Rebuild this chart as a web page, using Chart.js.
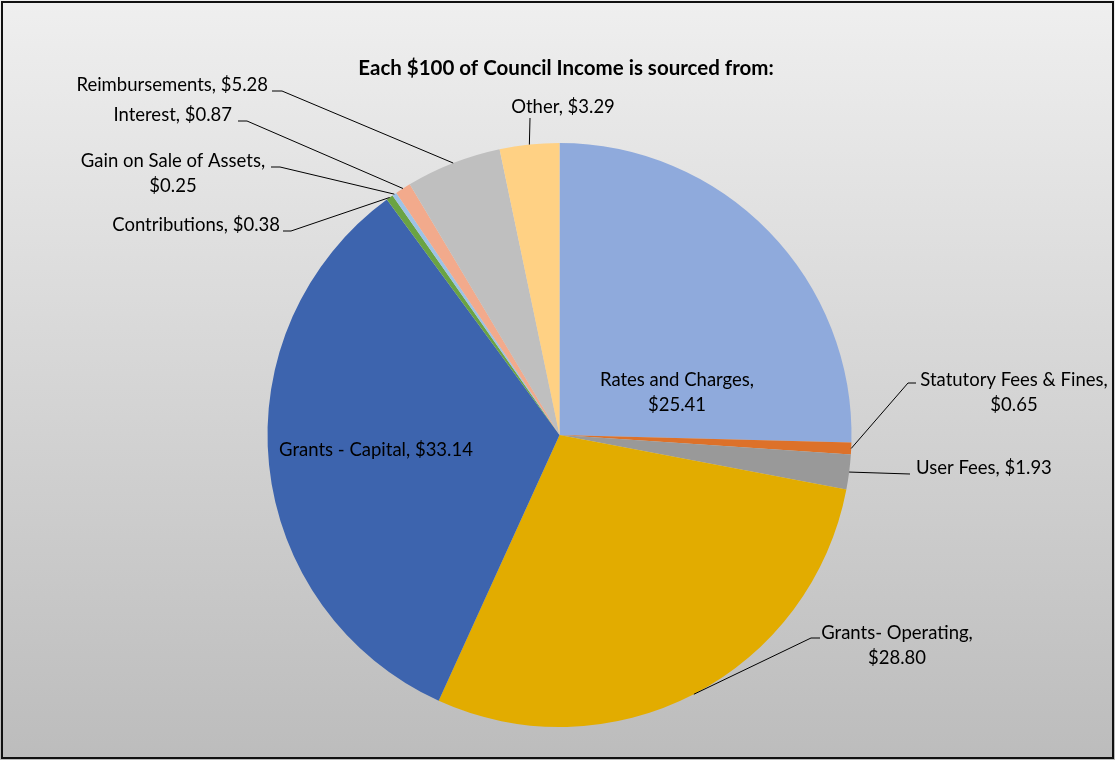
<!DOCTYPE html>
<html>
<head>
<meta charset="utf-8">
<title>Council Income</title>
<script src="https://cdn.jsdelivr.net/npm/chart.js@4.4.0/dist/chart.umd.min.js"></script>
<style>
  html, body { margin: 0; padding: 0; background: #fff; }
</style>
</head>
<body>
<canvas id="myChart" width="1115" height="760"></canvas>
<script>
var sources = ['Rates and Charges', 'Statutory Fees & Fines', 'User Fees', 'Grants- Operating', 'Grants - Capital',
    'Contributions', 'Gain on Sale of Assets', 'Interest', 'Reimbursements', 'Other'];
var dollars = [25.41, 0.65, 1.93, 28.80, 33.14, 0.38, 0.25, 0.87, 5.28, 3.29];
var sliceColors = ['#8faadc', '#dd7129', '#999999', '#e2ac00', '#3d64ae',
    '#6aa343', '#9dc3e6', '#f2aa8c', '#bfbfbf', '#ffd184'];

var chartTitle = 'Each $100 of Council Income is sourced from:';

// label placement: text anchor, alignment and leader elbow points (label side first)
var labelSpots = [
    { x: 677, y: 380, align: 'center', wrap: true, leader: null },
    { x: 1014, y: 380, align: 'center', wrap: true, leader: [[916, 383], [908, 383]] },
    { x: 916, y: 468, align: 'left', wrap: false, leader: [[910, 474]] },
    { x: 897, y: 633, align: 'center', wrap: true, leader: [[820, 638], [811, 638]] },
    { x: 376, y: 450, align: 'center', wrap: false, leader: null },
    { x: 280, y: 225, align: 'right', wrap: false, leader: [[283, 231], [291, 231]] },
    { x: 173, y: 161, align: 'center', wrap: true, leader: [[271, 167], [280, 167]] },
    { x: 232, y: 115, align: 'right', wrap: false, leader: [[238, 121], [247, 121]] },
    { x: 268, y: 85, align: 'right', wrap: false, leader: [[272, 91], [282, 91]] },
    { x: 563, y: 107, align: 'center', wrap: false, leader: [[530, 118]] }
];

var FONT = 'Lato, "Open Sans", sans-serif';

var backdrop = {
    id: 'backdrop',
    beforeDraw: function (chart) {
        var ctx = chart.ctx;
        var g = ctx.createLinearGradient(0, 0, 0, chart.height);
        g.addColorStop(0, '#efefef');
        g.addColorStop(1, '#bcbcbc');
        ctx.save();
        ctx.fillStyle = g;
        ctx.fillRect(0, 0, chart.width, chart.height);
        ctx.strokeStyle = '#111';
        ctx.lineWidth = 2;
        ctx.strokeRect(2, 2, chart.width - 4, chart.height - 4);
        ctx.restore();
    }
};

var sliceLabels = {
    id: 'sliceLabels',
    afterDraw: function (chart) {
        var ctx = chart.ctx;
        var arcs = chart.getDatasetMeta(0).data;
        ctx.save();

        // title
        ctx.fillStyle = '#000';
        ctx.font = 'bold 20.5px ' + FONT;
        ctx.textAlign = 'center';
        ctx.textBaseline = 'middle';
        ctx.fillText(chartTitle, 566, 68);

        ctx.font = '18.5px ' + FONT;
        ctx.strokeStyle = '#000';
        ctx.lineWidth = 1;
        for (i = 0; i < arcs.length; i++) {
            var spot = labelSpots[i];
            var a = arcs[i].getProps(['x', 'y', 'startAngle', 'endAngle', 'outerRadius'], true);
            var mid = (a.startAngle + a.endAngle) / 2;
            if (spot.leader) {
                ctx.beginPath();
                ctx.moveTo(spot.leader[0][0], spot.leader[0][1]);
                for (var k = 1; k < spot.leader.length; k++) {
                    ctx.lineTo(spot.leader[k][0], spot.leader[k][1]);
                }
                ctx.lineTo(a.x + Math.cos(mid) * a.outerRadius, a.y + Math.sin(mid) * a.outerRadius);
                ctx.stroke();
            }
            var amount = '$' + dollars[i].toFixed(2);
            var lines = spot.wrap ? [sources[i] + ',', amount] : [sources[i] + ', ' + amount];
            ctx.textAlign = spot.align;
            for (var j = 0; j < lines.length; j++) {
                ctx.fillText(lines[j], spot.x, spot.y + j * 25);
            }
        }
        ctx.restore();
    }
};

var myChart = document.getElementById('myChart').getContext('2d');

var incomeChart = new Chart(myChart, {
    type: 'pie',
    data: {
        labels: sources,
        datasets: [{
            data: dollars,
            backgroundColor: sliceColors,
            borderWidth: 0
        }]
    },
    options: {
        responsive: false,
        animation: false,
        layout: {
            padding: { top: 143, bottom: 33, left: 200, right: 196 }
        },
        plugins: {
            legend: { display: false },
            tooltip: { enabled: false },
            title: { display: false }
        }
    },
    plugins: [backdrop, sliceLabels]
});
</script>
</body>
</html>
